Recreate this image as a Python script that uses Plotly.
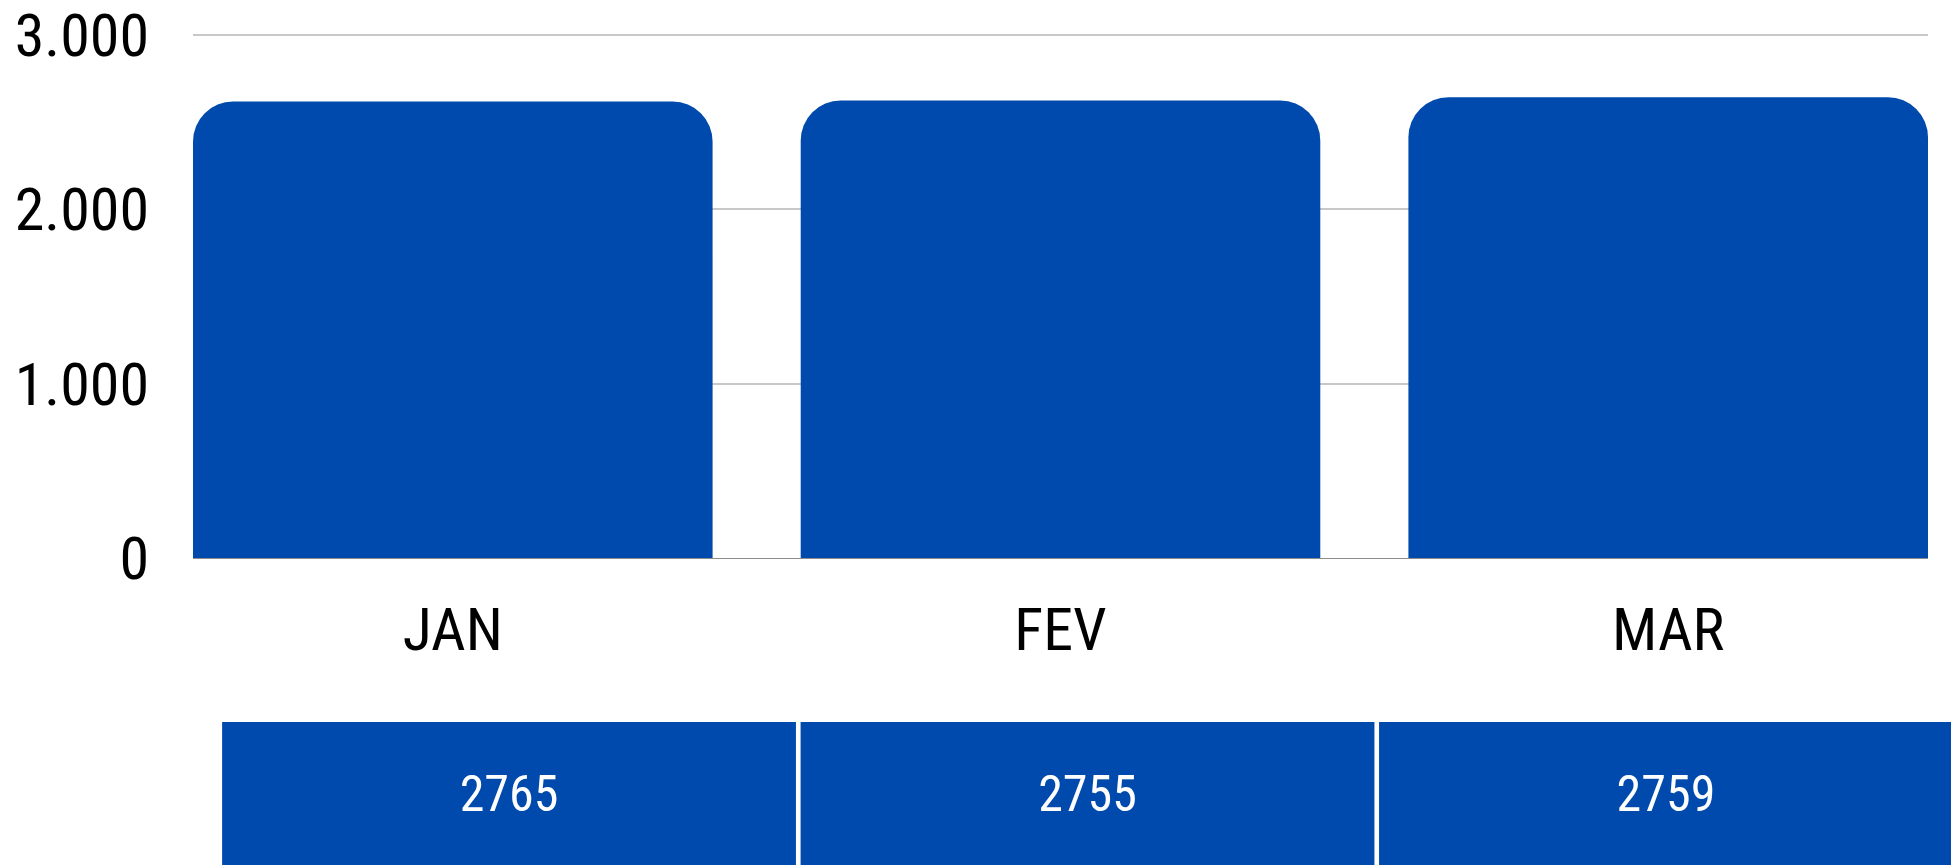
import plotly.graph_objects as go

# dados
meses = ["JAN", "FEV", "MAR"]
barras = [2618, 2624, 2643]
tabela = ["2765", "2755", "2759"]
ticks_y = [0, 1000, 2000, 3000]
ticks_y_txt = ["0", "1.000", "2.000", "3.000"]

# a página tem 8px de margem no body
W, H = 1951, 858
def px(x): return (x - 8) / W
def py(y): return 1 - (y - 8) / H

AZUL = "#004AAD"
FONTE = "Roboto Condensed, DejaVu Sans Condensed, sans-serif"

fig = go.Figure()

fig.add_trace(go.Bar(
    x=meses, y=barras,
    marker=dict(color=AZUL, cornerradius=40, line=dict(width=0)),
    hoverinfo="skip",
))

# linha de valores por baixo (células)
fig.add_trace(go.Bar(
    x=meses, y=[1, 1, 1], text=tabela, width=0.992,
    xaxis="x2", yaxis="y2",
    marker=dict(color=AZUL, line=dict(width=0)),
    textposition="inside", insidetextanchor="middle", textangle=0,
    textfont=dict(family=FONTE, size=50, color="white"),
    hoverinfo="skip",
))

fig.update_layout(
    width=W, height=H,
    margin=dict(l=0, r=0, t=0, b=0),
    paper_bgcolor="white", plot_bgcolor="white",
    showlegend=False,
    bargap=0.145,
    font=dict(family=FONTE, size=60, color="black"),
    xaxis=dict(
        domain=[px(193), px(1928)],
        range=[-0.4275, 2.4275],
        showgrid=False, showline=False, zeroline=False,
        ticks="", ticklabelstandoff=31,
        tickfont=dict(family=FONTE, size=60, color="black"),
        automargin=False, fixedrange=True,
    ),
    yaxis=dict(
        # topo um pouco acima de 3000 para a grelha de cima aparecer
        domain=[py(558), py(31.5)],
        range=[0, 3020],
        tickvals=ticks_y, ticktext=ticks_y_txt,
        showgrid=True, gridcolor="#c8c8c8", gridwidth=2,
        zeroline=True, zerolinecolor="#8c8c8c", zerolinewidth=1,
        showline=False, ticks="", ticklabelstandoff=43,
        ticklabeloverflow="allow",
        tickfont=dict(family=FONTE, size=60, color="black"),
        automargin=False, fixedrange=True,
    ),
    xaxis2=dict(domain=[px(219.8), px(1955.2)], range=[-0.5, 2.5], anchor="y2",
                visible=False, fixedrange=True),
    yaxis2=dict(domain=[py(865), py(722)], range=[0, 1], anchor="x2",
                visible=False, fixedrange=True),
)

fig.write_html("out.html")
